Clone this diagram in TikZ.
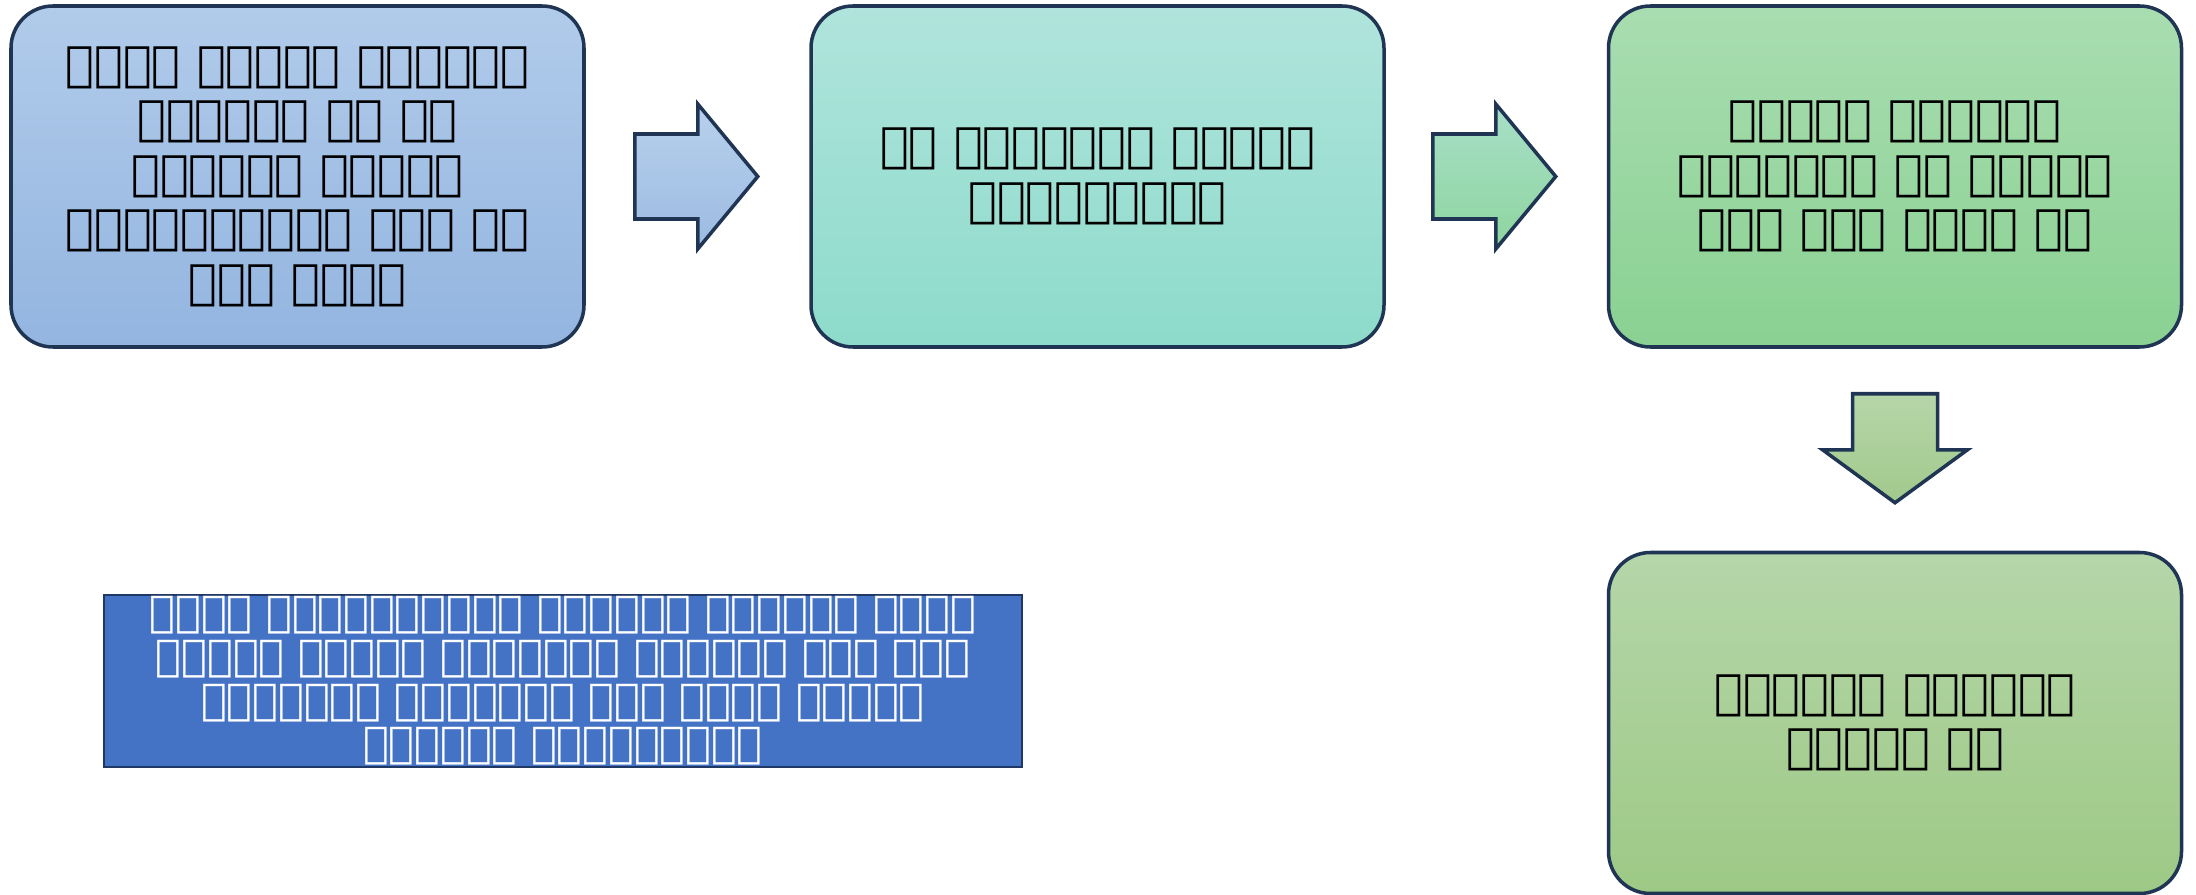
\documentclass[tikz,border=0pt]{standalone}
\usepackage{fontspec}
\setmainfont{DejaVu Sans}
\usetikzlibrary{calc}

\definecolor{rim}{HTML}{1F3553}
\definecolor{notefill}{HTML}{4472C4}
\definecolor{noterim}{HTML}{203864}
\definecolor{blueTop}{HTML}{B1CBEA}  \definecolor{blueBot}{HTML}{93B5E0}
\definecolor{tealTop}{HTML}{B0E4DC}  \definecolor{tealBot}{HTML}{8DDBCB}
\definecolor{greenTop}{HTML}{A9DDB1} \definecolor{greenBot}{HTML}{8AD192}
\definecolor{oliveTop}{HTML}{B5D6A9} \definecolor{oliveBot}{HTML}{9DC985}
\definecolor{arrATop}{HTML}{B8D0EC}  \definecolor{arrABot}{HTML}{9CBBE2}
\definecolor{arrBTop}{HTML}{A8DFC9}  \definecolor{arrBBot}{HTML}{8ED59E}
\definecolor{arrCTop}{HTML}{B6D6A8}  \definecolor{arrCBot}{HTML}{A2C98C}

\begin{document}
\begin{tikzpicture}[
    stepbox/.style = {draw=rim, line width=1pt, rounded corners=0.42cm,
                      minimum width=5.73cm, minimum height=3.41cm,
                      align=center, font=\bfseries\fontsize{13.6}{15.5}\selectfont},
    notebox/.style = {draw=noterim, line width=0.6pt, fill=notefill, text=white,
                      minimum width=9.18cm, minimum height=1.72cm, inner ysep=0.5pt,
                      align=center, font=\fontsize{12.2}{12.4}\selectfont},
    blockarr/.style = {draw=rim, line width=1pt, line join=miter},
  ]

  % ---------- frame ----------
  \useasboundingbox (0,0) rectangle (21.96,-8.95);

  % ---------- top row of steps ----------
  \node[stepbox, top color=blueTop, bottom color=blueBot]
       (b1) at (2.975,-1.765)
       {ᱨᱩᱱᱮ ᱵᱟᱜᱨᱮ ᱟᱫᱜᱤᱮᱧ\\ᱤᱟᱝᱥᱱᱧ ᱤᱮ ᱟᱨ\\ᱨᱛᱪᱞᱟᱭ ᱡᱮᱚᱟᱱ\\ᱫᱤᱮᱫᱦᱟᱤᱮᱱᱠ ᱠᱛᱞ ᱮᱨ\\ᱳᱟᱨ ᱵᱮᱪᱟ};
  \node[stepbox, top color=tealTop, bottom color=tealBot]
       (b2) at (10.975,-1.765)
       {ᱟᱨ ᱶᱦᱥᱤᱚᱛᱨ ᱣᱟᱚᱟᱝ\\ᱪᱟᱰᱮᱲᱟᱜᱼᱟ};
  \node[stepbox, top color=greenTop, bottom color=greenBot]
       (b3) at (18.95,-1.765)
       {ᱢᱟᱣᱟᱱ ᱶᱮᱯᱮᱱᱠ\\ᱮᱨᱟᱝᱥᱱᱞ ᱮᱨ ᱣᱥᱲᱥᱜ\\ᱟᱠᱮ ᱶᱟᱭ ᱡᱮᱹᱵ ᱨᱮ};

  % ---------- last step ----------
  \node[stepbox, top color=oliveTop, bottom color=oliveBot]
       (b4) at (18.95,-7.23)
       {ᱫᱮᱨᱮᱱᱞ ᱯᱟᱹᱜᱛᱪ\\ᱯᱟᱣᱟᱜ ᱨᱮ};

  % ---------- note ----------
  \node[notebox] (note) at (5.63,-6.81)
       {ᱢᱥᱪᱛ ᱟᱫᱜᱤᱮᱧᱮᱠᱩᱱ ᱚᱟᱯᱟᱚᱮ ᱯᱟᱫᱦᱟᱭ ᱵᱥᱠᱛ\\ᱚᱮᱲᱟᱜ ᱞᱤᱟᱰᱩ ᱜᱩᱞᱟᱜᱼᱟ ᱮᱭᱵᱤᱟᱱ ᱨᱛᱪ ᱶᱩᱰ\\ᱟᱤᱢᱛᱲᱛᱢ ᱧᱮᱠᱶᱭᱤᱧ ᱠᱮᱱ ᱵᱟᱚᱮ ᱱᱩᱨᱟᱲ\\ᱶᱛᱧᱟᱹᱤ ᱪᱟᱰᱮᱲᱟᱜᱼᱟ};

  % ---------- block arrows ----------
  \draw[blockarr, top color=arrATop, bottom color=arrABot]
       ($(b1.east)+(0.49,0.425)$) -- ++(0.63,0) -- ++(0,0.30) -- ++(0.60,-0.725)
       -- ++(-0.60,-0.725) -- ++(0,0.30) -- ++(-0.63,0) -- cycle;
  \draw[blockarr, top color=arrBTop, bottom color=arrBBot]
       ($(b2.east)+(0.47,0.425)$) -- ++(0.63,0) -- ++(0,0.30) -- ++(0.60,-0.725)
       -- ++(-0.60,-0.725) -- ++(0,0.30) -- ++(-0.63,0) -- cycle;
  \draw[blockarr, top color=arrCTop, bottom color=arrCBot]
       ($(b3.south)+(-0.425,-0.45)$) -- ++(0,-0.56) -- ++(-0.30,0) -- ++(0.725,-0.53)
       -- ++(0.725,0.53) -- ++(-0.30,0) -- ++(0,0.56) -- cycle;

\end{tikzpicture}
\end{document}
